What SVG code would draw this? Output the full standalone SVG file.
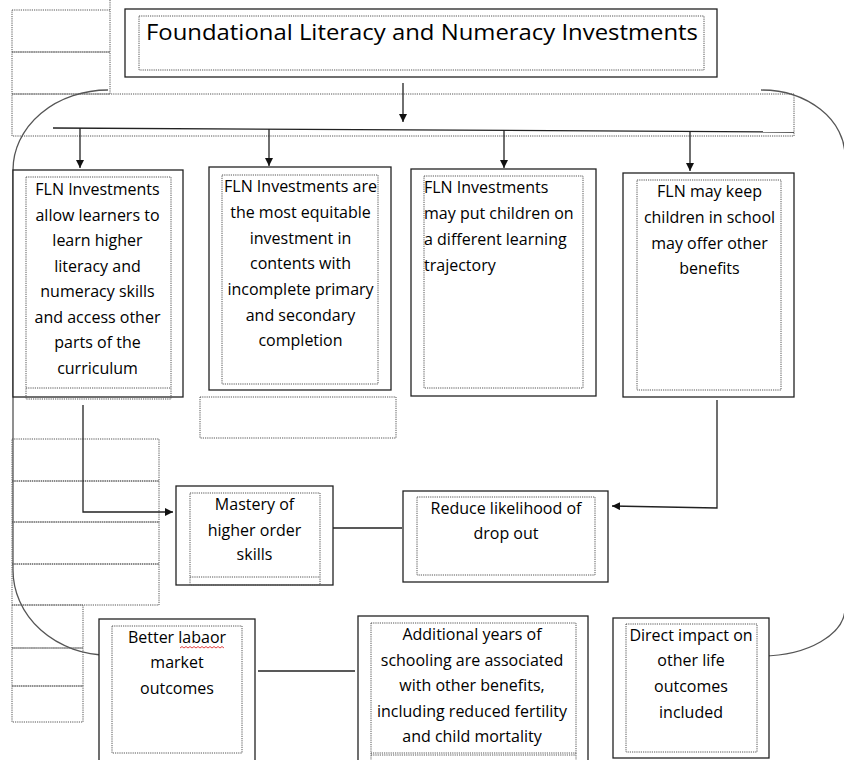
<svg xmlns="http://www.w3.org/2000/svg" width="844" height="760" viewBox="0 0 844 760">
<style>
.box{fill:#fff;stroke:#222;stroke-width:1.3}
.dot{fill:none;stroke:#555;stroke-width:1;stroke-dasharray:1.2,1}
.t{font-family:"Open Sans","Liberation Sans",sans-serif;font-size:16px;fill:#000;text-anchor:middle}
.tl{text-anchor:start}
.ln{fill:none;stroke:#222;stroke-width:1.3}
.cv{fill:none;stroke:#555;stroke-width:1.3}
</style>
<defs>
<marker id="ah" viewBox="0 0 10 10" refX="10" refY="5" markerWidth="8" markerHeight="8" markerUnits="userSpaceOnUse" orient="auto">
<path d="M0,0 L10,5 L0,10 Z" fill="#111"/>
</marker>
</defs>
<rect width="844" height="760" fill="#fff"/>

<g id="placeholders">
<rect class="dot" x="12" y="10" width="98" height="42"/>
<rect class="dot" x="12" y="52" width="98" height="42"/>
<line class="dot" x1="110" y1="0" x2="110" y2="10"/>
<rect class="dot" x="12" y="94" width="782" height="42"/>
<rect class="dot" x="200" y="397" width="196" height="41"/>
<rect class="dot" x="12" y="439" width="147" height="42"/>
<rect class="dot" x="12" y="481" width="147" height="41"/>
<rect class="dot" x="12" y="522" width="147" height="42"/>
<rect class="dot" x="12" y="564" width="147" height="41"/>
<rect class="dot" x="12" y="605" width="71" height="43"/>
<rect class="dot" x="12" y="648" width="71" height="38"/>
<rect class="dot" x="12" y="686" width="71" height="36"/>
</g>

<g id="title">
<rect class="box" x="125" y="9" width="592" height="68"/>
<rect class="dot" x="139" y="16" width="565" height="54"/>
<text class="t tl" x="146" y="40" style="font-size:21px" textLength="552" lengthAdjust="spacingAndGlyphs">Foundational Literacy and Numeracy Investments</text>
</g>

<g id="connectors">
<path class="cv" d="M108,90 A95,80 0 0 0 13,170 L13,570 A95,85 0 0 0 108,655"/>
<path class="cv" d="M761,90 A84,66 0 0 1 845,156 L845,608 A84,48 0 0 1 762,656"/>
<line class="ln" x1="403" y1="83" x2="403" y2="122" marker-end="url(#ah)"/>
<line class="ln" x1="53" y1="128" x2="794" y2="132"/>
<line class="ln" x1="80" y1="128" x2="80" y2="168" marker-end="url(#ah)"/>
<line class="ln" x1="269" y1="129" x2="269" y2="166" marker-end="url(#ah)"/>
<line class="ln" x1="504" y1="130" x2="504" y2="168" marker-end="url(#ah)"/>
<line class="ln" x1="690" y1="131" x2="690" y2="171" marker-end="url(#ah)"/>
<polyline class="ln" points="83,405 83,512 173,512" marker-end="url(#ah)"/>
<polyline class="ln" points="717,400 717,508 612,506" marker-end="url(#ah)"/>
<line class="ln" x1="330" y1="528" x2="402" y2="528"/>
<line class="ln" x1="258" y1="671" x2="355" y2="671"/>
</g>

<g id="box1">
<rect class="box" x="13" y="170" width="170" height="227"/>
<rect class="dot" x="26" y="177" width="145" height="222"/>
<line class="dot" x1="26" y1="388" x2="171" y2="388"/>
<text class="t" x="97.5" y="195">FLN Investments</text>
<text class="t" x="97.5" y="220.5">allow learners to</text>
<text class="t" x="97.5" y="246">learn higher</text>
<text class="t" x="97.5" y="271.5">literacy and</text>
<text class="t" x="97.5" y="297">numeracy skills</text>
<text class="t" x="97.5" y="322.5">and access other</text>
<text class="t" x="97.5" y="348">parts of the</text>
<text class="t" x="97.5" y="373.5">curriculum</text>
</g>

<g id="box2">
<rect class="box" x="209" y="167" width="182" height="223"/>
<rect class="dot" x="222" y="175" width="156" height="209"/>
<text class="t" x="300.5" y="192">FLN Investments are</text>
<text class="t" x="300.5" y="218">the most equitable</text>
<text class="t" x="300.5" y="243.5">investment in</text>
<text class="t" x="300.5" y="269">contents with</text>
<text class="t" x="300.5" y="295">incomplete primary</text>
<text class="t" x="300.5" y="320.5">and secondary</text>
<text class="t" x="300.5" y="346">completion</text>
</g>

<g id="box3">
<rect class="box" x="411" y="169" width="185" height="227"/>
<rect class="dot" x="424" y="176" width="159" height="212"/>
<text class="t tl" x="424" y="193">FLN Investments</text>
<text class="t tl" x="424" y="219">may put children on</text>
<text class="t tl" x="424" y="245">a different learning</text>
<text class="t tl" x="424" y="270.5">trajectory</text>
</g>

<g id="box4">
<rect class="box" x="623" y="173" width="171" height="224"/>
<rect class="dot" x="637" y="180" width="144" height="210"/>
<text class="t" x="709.5" y="197">FLN may keep</text>
<text class="t" x="709.5" y="223">children in school</text>
<text class="t" x="709.5" y="248.5">may offer other</text>
<text class="t" x="709.5" y="274">benefits</text>
</g>

<g id="mastery">
<rect class="box" x="176" y="486" width="157" height="99"/>
<rect class="dot" x="190" y="493" width="130" height="92"/>
<line class="dot" x1="190" y1="577" x2="320" y2="577"/>
<text class="t" x="254.5" y="510">Mastery of</text>
<text class="t" x="254.5" y="536">higher order</text>
<text class="t" x="254.5" y="560">skills</text>
</g>

<g id="reduce">
<rect class="box" x="403" y="491" width="205" height="91"/>
<rect class="dot" x="417" y="497" width="178" height="78"/>
<text class="t" x="506" y="514">Reduce likelihood of</text>
<text class="t" x="506" y="539">drop out</text>
</g>

<g id="better">
<rect class="box" x="99" y="619" width="156" height="145"/>
<rect class="dot" x="112" y="626" width="130" height="127"/>
<text class="t" x="177" y="643">Better labaor</text>
<path d="M180,648 l2,-1.5 l2,1.5 l2,-1.5 l2,1.5 l2,-1.5 l2,1.5 l2,-1.5 l2,1.5 l2,-1.5 l2,1.5 l2,-1.5 l2,1.5 l2,-1.5 l2,1.5 l2,-1.5 l2,1.5 l2,-1.5 l2,1.5 l2,-1.5 l2,1.5 l2,-1.5 l2,1.5" fill="none" stroke="#e03030" stroke-width="0.9"/>
<text class="t" x="177" y="668">market</text>
<text class="t" x="177" y="694">outcomes</text>
</g>

<g id="additional">
<rect class="box" x="358" y="616" width="230" height="148"/>
<rect class="dot" x="371" y="623" width="205" height="130"/>
<line class="dot" x1="371" y1="755" x2="576" y2="755"/>
<line class="dot" x1="371" y1="753" x2="371" y2="762"/>
<line class="dot" x1="576" y1="753" x2="576" y2="762"/>
<text class="t" x="472" y="640">Additional years of</text>
<text class="t" x="472" y="665.5">schooling are associated</text>
<text class="t" x="472" y="691">with other benefits,</text>
<text class="t" x="472" y="716.5">including reduced fertility</text>
<text class="t" x="472" y="742">and child mortality</text>
</g>

<g id="direct">
<rect class="box" x="613" y="618" width="156" height="140"/>
<rect class="dot" x="626" y="624" width="131" height="128"/>
<text class="t" x="691" y="640.5">Direct impact on</text>
<text class="t" x="691" y="666">other life</text>
<text class="t" x="691" y="692">outcomes</text>
<text class="t" x="691" y="717.5">included</text>
</g>
</svg>
